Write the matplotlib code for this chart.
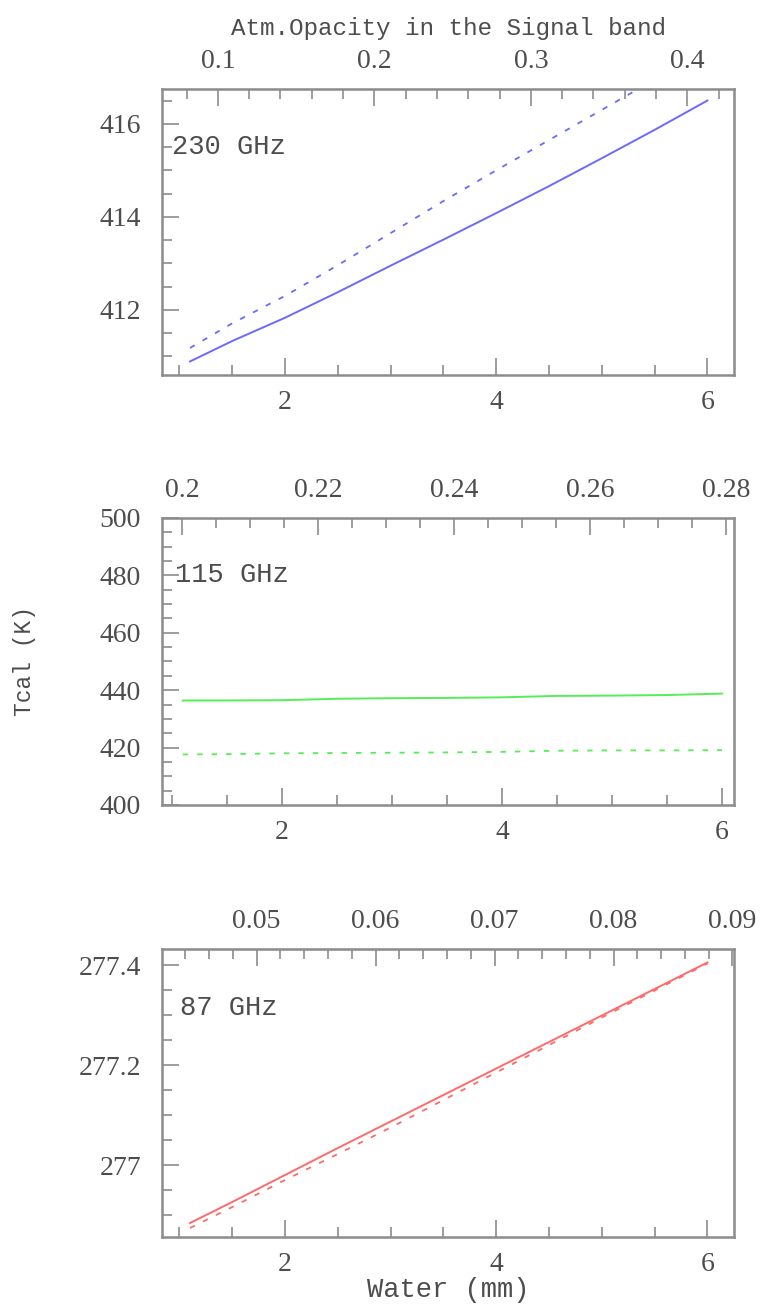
import matplotlib
matplotlib.use("Agg")
import matplotlib.pyplot as plt
import numpy as np
from matplotlib.ticker import MultipleLocator, FuncFormatter

# -----------------------------
# Data
# -----------------------------
water = np.array([1.1, 1.5, 2.0, 2.5, 3.0, 3.5, 4.0, 4.5, 5.0, 5.5, 6.0])

tcal_230_solid = np.array([410.89, 411.33, 411.83, 412.38, 412.95, 413.51,
                           414.08, 414.66, 415.26, 415.87, 416.50])
tcal_230_dash = np.array([411.18, 411.71, 412.30, 412.96, 413.65, 414.34,
                          415.00, 415.65, 416.30, 416.95, 417.60])

tcal_115_solid = np.array([436.4, 436.4, 436.5, 437.0, 437.2, 437.3,
                           437.5, 438.0, 438.1, 438.3, 438.8])
tcal_115_dash = np.array([417.6, 417.7, 418.0, 418.1, 418.2, 418.3,
                          418.5, 418.9, 419.0, 419.0, 419.1])

tcal_87_solid = np.array([276.885, 276.927, 276.981, 277.035, 277.088, 277.141,
                          277.194, 277.247, 277.300, 277.353, 277.406])
tcal_87_dash = np.array([276.875, 276.917, 276.971, 277.023, 277.076, 277.131,
                         277.186, 277.241, 277.296, 277.350, 277.404])

# opacity in the signal band at the ends of the water grid (top axes)
opac_water = np.array([1.1, 6.0])
opac_230 = np.array([0.0822, 0.4129])
opac_115 = np.array([0.2001, 0.2794])
opac_87 = np.array([0.0444, 0.0879])

opac_ticks_230 = [0.1, 0.2, 0.3, 0.4]
opac_ticks_115 = [0.2, 0.22, 0.24, 0.26, 0.28]
opac_ticks_87 = [0.05, 0.06, 0.07, 0.08, 0.09]

bands = ["230 GHz", "115 GHz", "87 GHz"]

# -----------------------------
# Style
# -----------------------------
plt.rcParams["font.family"] = ["Liberation Mono", "DejaVu Sans Mono"]
plt.rcParams["font.size"] = 17.5
TICKFONT = {"family": "Liberation Serif", "size": 20}
TXT = "#4d4d4d"
AX = "#8c8c8c"
fmt = FuncFormatter(lambda v, p: f"{v:g}")


def linear_map(xs, ys):
    slope = (ys[1] - ys[0]) / (xs[1] - xs[0])
    fwd = lambda x: ys[0] + (np.asarray(x) - xs[0]) * slope
    inv = lambda y: xs[0] + (np.asarray(y) - ys[0]) / slope
    return fwd, inv


def style_axes(ax, xmajor, xminor, ymajor, yminor):
    for sp in ax.spines.values():
        sp.set_color(AX)
        sp.set_linewidth(1.8)
    ax.xaxis.set_major_locator(MultipleLocator(xmajor))
    ax.xaxis.set_minor_locator(MultipleLocator(xminor))
    ax.yaxis.set_major_locator(MultipleLocator(ymajor))
    ax.yaxis.set_minor_locator(MultipleLocator(yminor))
    ax.yaxis.set_major_formatter(fmt)
    ax.tick_params(which="both", direction="in", colors=AX, labelcolor=TXT,
                   top=False, right=False, width=1.2,
                   labelsize=TICKFONT["size"], labelfontfamily=TICKFONT["family"])
    ax.tick_params(which="major", length=12)
    ax.tick_params(which="minor", length=7)
    ax.tick_params(axis="x", pad=11)
    ax.tick_params(axis="y", pad=15)


def top_axis(ax, opac, ticks, minor):
    fwd, inv = linear_map(opac_water, opac)
    sec = ax.secondary_xaxis("top", functions=(fwd, inv))
    sec.spines["top"].set_color(AX)
    sec.set_xticks(ticks)
    sec.xaxis.set_major_formatter(fmt)
    sec.xaxis.set_minor_locator(MultipleLocator(minor))
    sec.tick_params(which="both", direction="in", colors=AX, labelcolor=TXT,
                    width=1.2, pad=11,
                    labelsize=TICKFONT["size"], labelfontfamily=TICKFONT["family"])
    sec.tick_params(which="major", length=12)
    sec.tick_params(which="minor", length=7)
    return sec


fig = plt.figure(figsize=(7.6, 13.11), dpi=100)
ax1 = fig.add_axes([0.2128, 0.7140, 0.7534, 0.2182])
ax2 = fig.add_axes([0.2128, 0.3860, 0.7534, 0.2189])
ax3 = fig.add_axes([0.2128, 0.05645, 0.7534, 0.2197])

dash = (0, (3, 5))

# 230 GHz
ax1.plot(water, tcal_230_solid, color="#6a6aff", lw=1.4)
ax1.plot(water, tcal_230_dash, color="#6a6aff", lw=1.3, linestyle=dash)
ax1.set_xlim(0.832, 6.254)
ax1.set_ylim(410.60, 416.75)
style_axes(ax1, 2, 0.5, 2, 0.5)
sec1 = top_axis(ax1, opac_230, opac_ticks_230, 0.02)
sec1.set_xlabel("Atm.Opacity in the Signal band", color=TXT, labelpad=10,
                fontsize=17.5)

# 115 GHz
ax2.plot(water, tcal_115_solid, color="#55ee55", lw=1.4)
ax2.plot(water, tcal_115_dash, color="#55ee55", lw=1.3, linestyle=dash)
ax2.set_xlim(0.909, 6.112)
ax2.set_ylim(400, 500)
style_axes(ax2, 2, 0.5, 20, 5)
top_axis(ax2, opac_115, opac_ticks_115, 0.005)
ax2.set_ylabel("Tcal (K)", color=TXT, fontsize=16.5)
ax2.yaxis.set_label_coords(-0.22, 0.5)

# 87 GHz
ax3.plot(water, tcal_87_solid, color="#ff6a6a", lw=1.4)
ax3.plot(water, tcal_87_dash, color="#ff6a6a", lw=1.3, linestyle=dash)
ax3.set_xlim(0.832, 6.254)
ax3.set_ylim(276.857, 277.433)
style_axes(ax3, 2, 0.5, 0.2, 0.05)
top_axis(ax3, opac_87, opac_ticks_87, 0.002)
ax3.set_xlabel("Water (mm)", color=TXT, labelpad=0, fontsize=19.5)

for ax, lab, (tx, ty) in zip([ax1, ax2, ax3], bands,
                             [(0.0175, 0.798), (0.023, 0.801), (0.032, 0.794)]):
    ax.text(tx, ty, lab, transform=ax.transAxes, color=TXT, fontsize=19.5,
            ha="left", va="center")

fig.savefig("out.png", dpi=100)
